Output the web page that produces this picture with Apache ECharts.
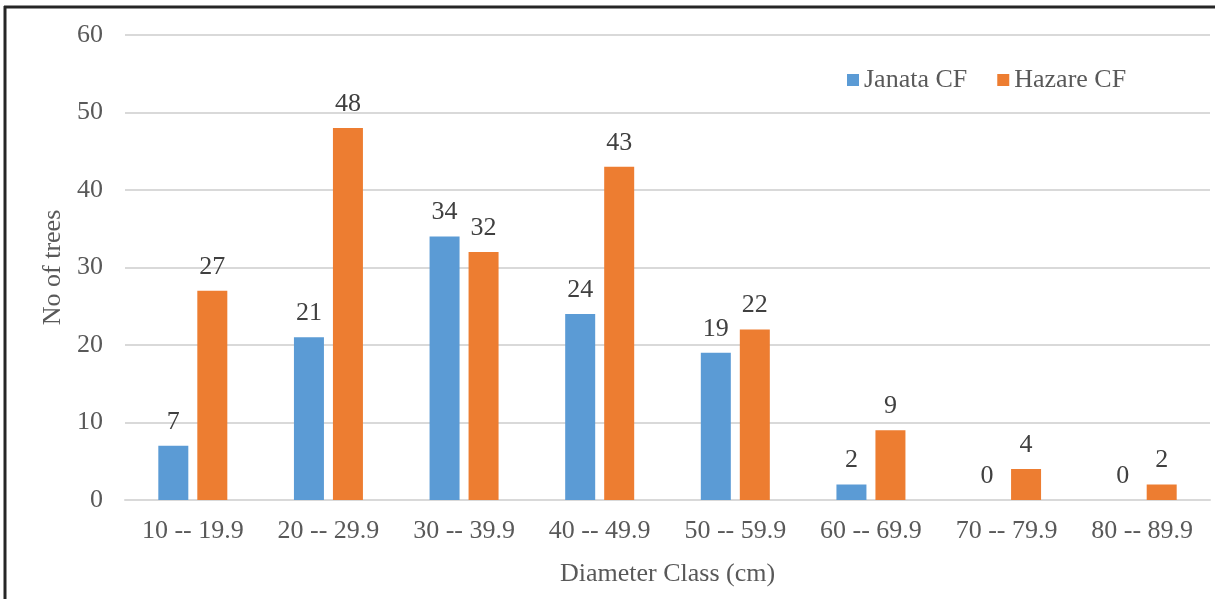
<!DOCTYPE html>
<html>
<head>
<meta charset="utf-8">
<script src="https://cdn.jsdelivr.net/npm/echarts@6/dist/echarts.min.js"></script>
<style>
  html, body { margin: 0; padding: 0; background: #fff; }
  #chart { width: 1215px; height: 599px; }
</style>
</head>
<body>
<div id="chart"></div>
<script>
// Diameter classes (cm) and tree counts per community forest
const categories = ['10 -- 19.9', '20 -- 29.9', '30 -- 39.9', '40 -- 49.9', '50 -- 59.9', '60 -- 69.9', '70 -- 79.9', '80 -- 89.9'];
const janataCF = [7, 21, 34, 24, 19, 2, 0, 0];
const hazareCF = [27, 48, 32, 43, 22, 9, 4, 2];
const yTicks = { min: 0, max: 60, interval: 10 };

const serif = '"Liberation Serif", "Times New Roman", serif';
const fs = 26;
const chart = echarts.init(document.getElementById('chart'));

const labelStyle = {
  show: true,
  position: 'top',
  distance: 11,
  color: '#404040',
  fontFamily: serif,
  fontSize: fs
};

chart.setOption({
  animation: false,
  backgroundColor: '#fff',
  textStyle: { fontFamily: serif },
  grid: { left: 125, right: 5, top: 35, bottom: 99 },
  legend: {
    top: 62,
    left: 842,
    itemWidth: 12,
    itemHeight: 12,
    itemGap: 30,
    icon: 'rect',
    textStyle: { color: '#595959', fontFamily: serif, fontSize: fs },
    data: ['Janata CF', 'Hazare CF']
  },
  xAxis: {
    type: 'category',
    data: categories,
    name: 'Diameter Class (cm)',
    nameLocation: 'middle',
    nameGap: 61,
    nameTextStyle: { color: '#595959', fontFamily: serif, fontSize: fs },
    axisLine: { lineStyle: { color: '#d9d9d9', width: 2 } },
    axisTick: { show: false },
    axisLabel: { color: '#595959', fontFamily: serif, fontSize: fs, margin: 18 }
  },
  yAxis: {
    type: 'value',
    min: yTicks.min,
    max: yTicks.max,
    interval: yTicks.interval,
    name: 'No of trees',
    nameLocation: 'middle',
    nameGap: 57,
    nameTextStyle: { color: '#595959', fontFamily: serif, fontSize: fs },
    axisLine: { show: false },
    axisTick: { show: false },
    axisLabel: { color: '#595959', fontFamily: serif, fontSize: fs, margin: 22 },
    splitLine: { lineStyle: { color: '#d9d9d9', width: 2 } }
  },
  series: [
    {
      name: 'Janata CF',
      type: 'bar',
      data: janataCF,
      barWidth: 30,
      barGap: '30%',
      itemStyle: { color: '#5b9bd5' },
      label: labelStyle
    },
    {
      name: 'Hazare CF',
      type: 'bar',
      data: hazareCF,
      barWidth: 30,
      itemStyle: { color: '#ed7d31' },
      label: labelStyle
    }
  ],
  graphic: [
    { type: 'line', shape: { x1: 5, y1: 6, x2: 5, y2: 599 }, style: { stroke: '#262626', lineWidth: 3 } },
    { type: 'line', shape: { x1: 4, y1: 7, x2: 1215, y2: 7 }, style: { stroke: '#262626', lineWidth: 3 } }
  ]
});
</script>
</body>
</html>
